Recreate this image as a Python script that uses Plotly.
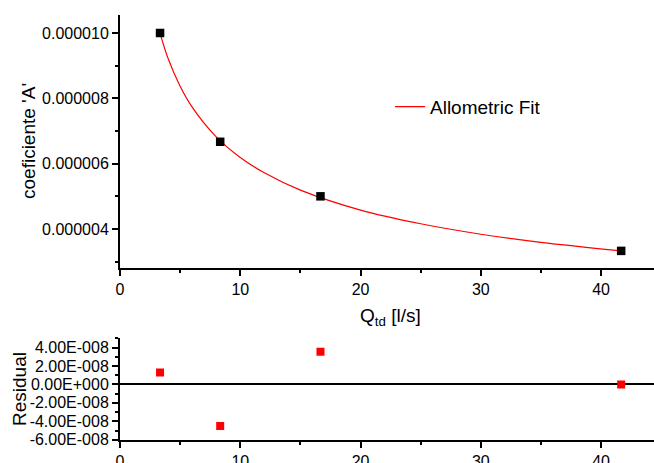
import plotly.graph_objects as go

# Data
q_td = [3.33, 8.33, 16.67, 41.67]
coef_a = [1.0e-5, 6.67e-6, 5.0e-6, 3.33e-6]
residual = [1.3e-8, -4.5e-8, 3.55e-8, 0.0]

fit_x = [3.33, 4, 5, 6, 8, 10, 12, 15, 20, 25, 30, 35, 41.67]
fit_y = [9.99e-6, 9.22e-6, 8.37e-6, 7.73e-6, 6.82e-6, 6.19e-6, 5.72e-6,
         5.19e-6, 4.58e-6, 4.16e-6, 3.84e-6, 3.59e-6, 3.33e-6]

x_ticks = [0, 10, 20, 30, 40]
y_ticks = [4e-6, 6e-6, 8e-6, 1e-5]
y_ticklabels = ["0.000004", "0.000006", "0.000008", "0.000010"]
res_ticks = [-6e-8, -4e-8, -2e-8, 0, 2e-8, 4e-8]
res_ticklabels = ["-6.00E-008", "-4.00E-008", "-2.00E-008", "0.00E+000",
                  "2.00E-008", "4.00E-008"]

FONT = "Liberation Sans, Arial, sans-serif"
W, H = 654, 463
L = 120

fig = go.Figure()
fig.add_trace(go.Scatter(x=fit_x, y=fit_y, mode="lines", name="Allometric Fit",
                         line=dict(color="#ff0000", width=1.2, shape="spline"),
                         xaxis="x", yaxis="y", showlegend=True))
fig.add_trace(go.Scatter(x=q_td, y=coef_a, mode="markers", showlegend=False,
                         marker=dict(symbol="square", size=8.5, color="black"),
                         xaxis="x", yaxis="y"))
fig.add_trace(go.Scatter(x=q_td, y=residual, mode="markers", showlegend=False,
                         marker=dict(symbol="square", size=8, color="#ff0000"),
                         xaxis="x2", yaxis="y2"))

axis_common = dict(showgrid=False, showline=True, linecolor="black", linewidth=2,
                   ticks="outside", tickcolor="black", tickwidth=1.5, ticklen=6,
                   automargin=False,
                   tickfont=dict(family=FONT, size=16, color="black"))

def px2py(p):
    return (H - p) / H

fig.update_layout(
    template="none",
    width=W, height=H,
    margin=dict(l=L, r=0, t=0, b=0, autoexpand=False),
    paper_bgcolor="white", plot_bgcolor="white",
    font=dict(family=FONT, color="black"),
    xaxis=dict(**axis_common, range=[0, 44.4], tickvals=x_ticks,
               domain=[0, 1], anchor="y", zeroline=False,
               minor=dict(ticks="outside", ticklen=3, dtick=5, tick0=0,
                          tickcolor="black", tickwidth=1.5, showgrid=False)),
    yaxis=dict(**axis_common, range=[2.806e-6, 1.0551e-5], tickvals=y_ticks,
               ticktext=y_ticklabels, anchor="x", zeroline=False,
               domain=[px2py(268), px2py(15)],
               minor=dict(ticks="outside", ticklen=3, dtick=1e-6, tick0=0,
                          tickcolor="black", tickwidth=1.5, showgrid=False)),
    xaxis2=dict(**axis_common, range=[0, 44.4], tickvals=x_ticks,
                domain=[0, 1], anchor="y2", matches="x", zeroline=False,
                minor=dict(ticks="outside", ticklen=3, dtick=5, tick0=0,
                           tickcolor="black", tickwidth=1.5, showgrid=False)),
    yaxis2=dict(**axis_common, range=[-6e-8, 5.02e-8], tickvals=res_ticks,
                ticktext=res_ticklabels, anchor="x2",
                zeroline=True, zerolinecolor="black", zerolinewidth=1.5,
                domain=[px2py(439.7), px2py(338.3)],
                minor=dict(ticks="outside", ticklen=3, dtick=1e-8, tick0=0,
                           tickcolor="black", tickwidth=1.5, showgrid=False)),
    legend=dict(x=(390 - L) / (W - L), xanchor="left", y=px2py(106.7),
                yanchor="middle", bgcolor="rgba(0,0,0,0)", borderwidth=0,
                font=dict(family=FONT, size=19, color="black")),
    annotations=[
        dict(text="Q<sub>td</sub> [l/s]", xref="paper", yref="paper",
             x=(390 - L) / (W - L), y=px2py(317), xanchor="center", yanchor="middle",
             showarrow=False, font=dict(family=FONT, size=19, color="black")),
        dict(text="coeficiente 'A'", xref="paper", yref="paper",
             x=(28 - L) / (W - L), y=px2py(141), xanchor="center", yanchor="middle",
             textangle=-90, showarrow=False,
             font=dict(family=FONT, size=19, color="black")),
        dict(text="Residual", xref="paper", yref="paper",
             x=(19 - L) / (W - L), y=px2py(389), xanchor="center", yanchor="middle",
             textangle=-90, showarrow=False,
             font=dict(family=FONT, size=19, color="black")),
    ],
)

fig.write_html("out.html")
